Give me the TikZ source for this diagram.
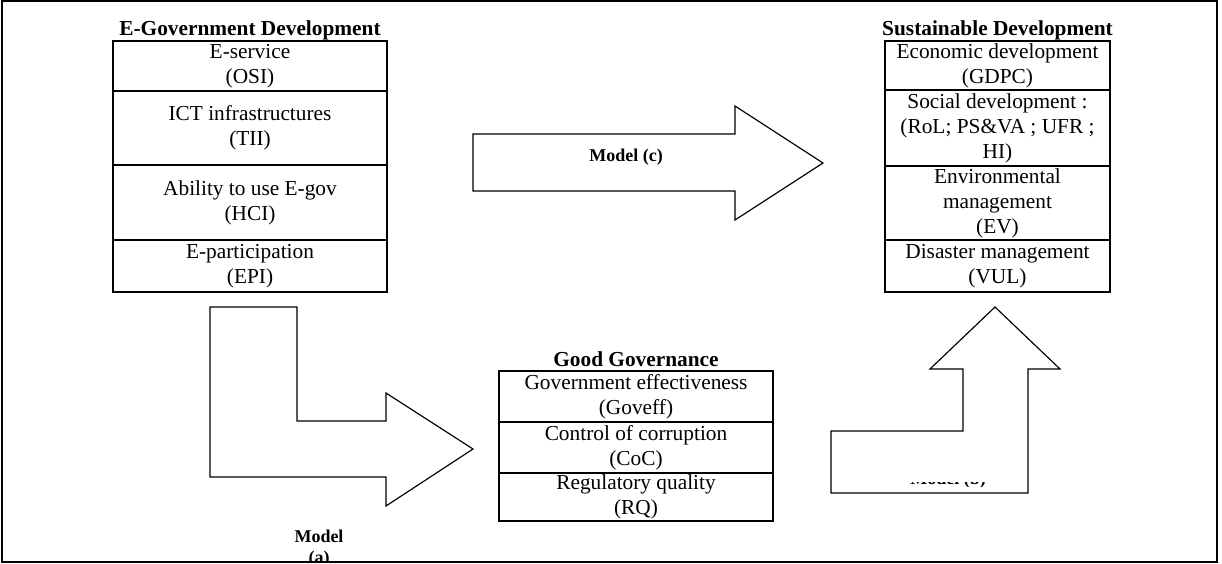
\documentclass[tikz,border=0pt]{standalone}
\usepackage{fontspec}
\setmainfont{Liberation Serif}
\tikzset{
  row/.style={draw, line width=1.2pt, rectangle, inner sep=0pt, align=center,
    font=\fontsize{12.8}{15}\selectfont},
  ttl/.style={anchor=base, inner sep=0pt, font=\fontsize{12.8}{15}\selectfont\bfseries},
  blockarrow/.style={draw, line width=0.7pt, fill=white, line join=miter},
  mlabel/.style={inner sep=0pt, align=center, font=\fontsize{10.8}{12.5}\selectfont\bfseries},
  frame/.style={draw, line width=1.1pt}
}
\begin{document}
\begin{tikzpicture}[x=0.6pt,y=-0.6pt]
\useasboundingbox (0,0) rectangle (1222,564);
\path[frame] (2,1) rectangle (1217,562);

% E-Government box (x 113..387)
\node[ttl] (egt) at (250,35) {E-Government Development};
\node[row, minimum width=164.4pt, minimum height=30pt] (e1) at (250,66) {E-service\\(OSI)};
\node[row, minimum width=164.4pt, minimum height=44.4pt] (e2) at (250,128) {ICT infrastructures\\(TII)};
\node[row, minimum width=164.4pt, minimum height=45pt] (e3) at (250,202.5) {Ability to use E-gov\\(HCI)};
\node[row, minimum width=164.4pt, minimum height=31.2pt] (e4) at (250,266) {E-participation\\(EPI)};

% Sustainable development box (x 885..1110)
\node[ttl] (sdt) at (997.5,35) {Sustainable Development};
\node[row, minimum width=135pt, minimum height=29.4pt] (s1) at (997.5,65.5) {Economic development\\(GDPC)};
\node[row, minimum width=135pt, minimum height=45.6pt] (s2) at (997.5,128) {Social development :\\(RoL; PS\&VA ; UFR ;\\HI)};
\node[row, minimum width=135pt, minimum height=44.4pt] (s3) at (997.5,203) {Environmental\\management\\(EV)};
\node[row, minimum width=135pt, minimum height=31.2pt] (s4) at (997.5,266) {Disaster management\\(VUL)};

% Good governance box (x 499..773)
\node[ttl] (ggt) at (636,366) {Good Governance};
\node[row, minimum width=164.4pt, minimum height=30.6pt] (g1) at (636,396.5) {Government effectiveness\\(Goveff)};
\node[row, minimum width=164.4pt, minimum height=30.6pt] (g2) at (636,447.5) {Control of corruption\\(CoC)};
\node[row, minimum width=164.4pt, minimum height=28.8pt] (g3) at (636,497) {Regulatory quality\\(RQ)};

% Model (c) arrow
\path[blockarrow] (473,134) -- (735,134) -- (735,106) -- (823,163) -- (735,220) -- (735,191) -- (473,191) -- cycle;
\node[mlabel] (mc) at (626,157) {Model (c)};

% Model (a) L-arrow
\path[blockarrow] (210,307) -- (297,307) -- (297,421) -- (386,421) -- (386,393) -- (473,449) -- (386,506) -- (386,477) -- (210,477) -- cycle;
\begin{scope}
\clip (250,520) rectangle (400,560);
\node[mlabel, anchor=north] (ma) at (319,530) {Model\\(a)};
\end{scope}

% Model (b) up arrow
\path[blockarrow] (831,431) -- (963,431) -- (963,369) -- (930,369) -- (995,307) -- (1060,369) -- (1028,369) -- (1028,493) -- (831,493) -- cycle;
\begin{scope}
\clip (890,482.6) rectangle (1010,486.5);
\node[mlabel, anchor=base] (mb) at (948,484) {Model (b)};
\end{scope}
\end{tikzpicture}
\end{document}
